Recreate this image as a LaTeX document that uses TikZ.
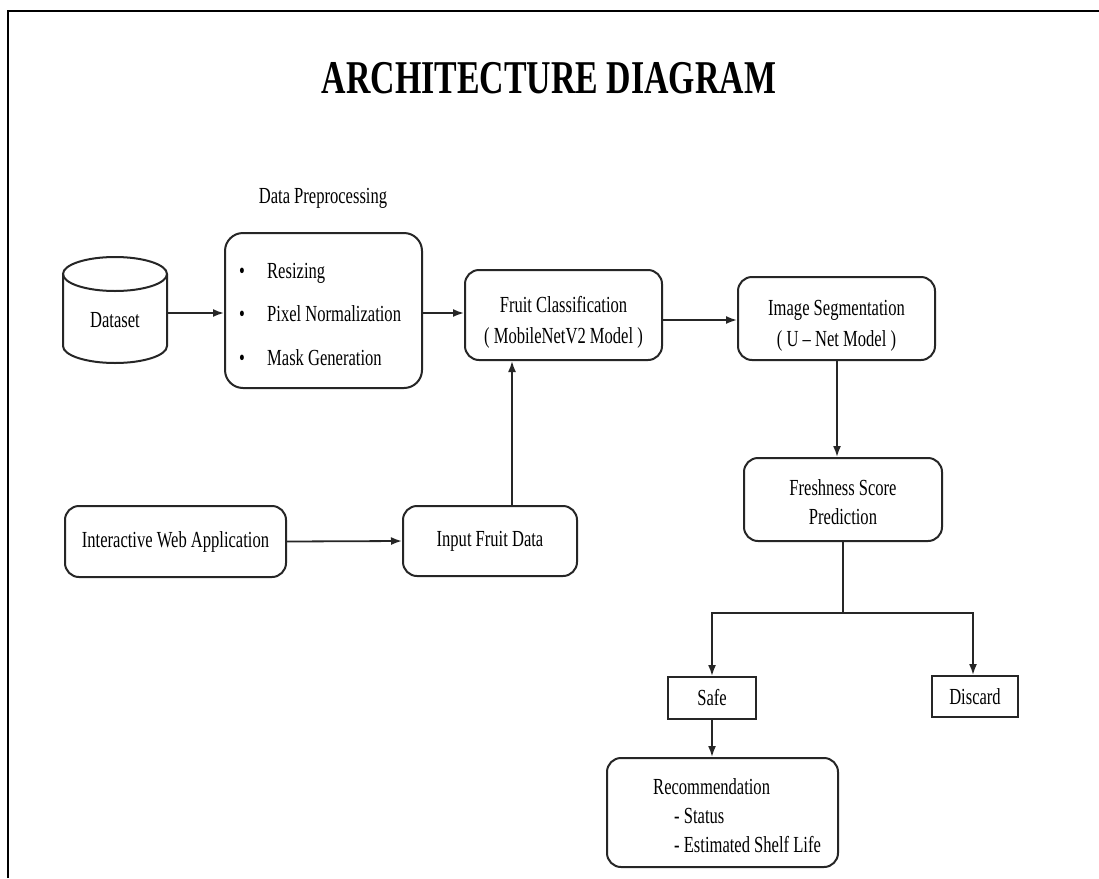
\documentclass[tikz,border=0pt]{standalone}
\usepackage{fontspec}
\setmainfont{Liberation Serif}[FakeStretch=0.72]
\newfontfamily\titlefont{Liberation Serif}[FakeStretch=0.72]
\usetikzlibrary{arrows.meta}
\begin{document}
\begin{tikzpicture}[x=1pt,y=-1pt,
  body/.style={font=\fontsize{23}{31}\selectfont},
  box/.style={draw=black!85, line width=2pt, rounded corners=14pt, inner sep=0pt, align=center, body},
  sqbox/.style={draw=black!85, line width=2pt, inner sep=0pt, align=center, body},
  txt/.style={inner sep=0pt, body},
  btxt/.style={inner sep=0pt, body, anchor=base},
  arr/.style={draw=black!85, line width=1.8pt, -{Latex[length=11pt,width=8pt]}},
  ln/.style={draw=black!85, line width=1.8pt}]
\useasboundingbox (0,0) rectangle (1099,878);
\fill[white] (0,0) rectangle (1099,878);
\draw[line width=2.5pt] (8,878) -- (8,11) -- (1099,11);

% title
\node[inner sep=0pt, font=\titlefont\bfseries\fontsize{47}{50}\selectfont] (title) at (549,78) {ARCHITECTURE DIAGRAM};
\node[txt] (preplabel) at (323,198) {Data Preprocessing};

% dataset cylinder
\node[txt, minimum width=104pt, minimum height=106pt] (dataset) at (115,310) {};
\draw[draw=black!85, line width=2pt] (63,274) -- (63,346) arc[start angle=180, end angle=360, x radius=52pt, y radius=17pt] -- (167,274);
\draw[draw=black!85, line width=2pt] (115,274) ellipse [x radius=52pt, y radius=17pt];
\node[txt] (datasettxt) at (115,320) {Dataset};

% preprocessing
\node[box, rounded corners=18pt, minimum width=197pt, minimum height=155pt] (prep) at (323.5,310.5) {};
\node[btxt] (b1) at (242,278) {\textbullet};
\node[btxt] (b2) at (242,321) {\textbullet};
\node[btxt] (b3) at (242,365) {\textbullet};
\node[txt, anchor=base west] (p1) at (267,278) {Resizing};
\node[txt, anchor=base west] (p2) at (267,321) {Pixel Normalization};
\node[txt, anchor=base west] (p3) at (267,365) {Mask Generation};

% fruit classification
\node[box, minimum width=197pt, minimum height=90pt] (fruit) at (563.5,315) {};
\node[btxt] (fruit1) at (563.5,312) {Fruit Classification};
\node[btxt] (fruit2) at (563.5,343) {( MobileNetV2 Model )};
% segmentation
\node[box, minimum width=197pt, minimum height=83pt] (seg) at (836.5,318.5) {};
\node[btxt] (seg1) at (836.5,315) {Image Segmentation};
\node[btxt] (seg2) at (836.5,346) {( U -- Net Model )};
% freshness
\node[box, minimum width=198pt, minimum height=83pt] (fresh) at (843,499.5) {};
\node[btxt] (fresh1) at (843,495) {Freshness Score};
\node[btxt] (fresh2) at (843,524) {Prediction};

% web + input
\node[box, minimum width=221pt, minimum height=71pt] (web) at (175.5,541.5) {Interactive Web Application};
\node[box, minimum width=174pt, minimum height=70pt] (input) at (490,541) {Input Fruit Data};

% safe, discard
\node[sqbox, minimum width=88pt, minimum height=42pt] (safe) at (712,698) {Safe};
\node[sqbox, minimum width=86pt, minimum height=41pt] (discard) at (975,696.5) {Discard};

% recommendation
\node[box, minimum width=231pt, minimum height=109pt] (rec) at (722.5,812.5) {};
\node[btxt, anchor=base west] (rec1) at (653,794) {Recommendation};
\node[btxt, anchor=base west] (rec2) at (674,823) {- Status};
\node[btxt, anchor=base west] (rec3) at (674,852) {- Estimated Shelf Life};

% connectors
\draw[arr] (dataset.east |- 0,313) -- (prep.west |- 0,313);
\draw[arr] (prep.east |- 0,313) -- (fruit.west |- 0,313);
\draw[arr] (fruit.east |- 0,320) -- (seg.west |- 0,320);
\draw[arr] (input.north -| 512,0) -- (fruit.south -| 512,0);
\draw[arr] (web.east) -- (input.west);
\draw[arr] (seg.south -| 837,0) -- (fresh.north -| 837,0);
\coordinate (split) at (843,613);
\draw[ln] (fresh.south) -- (split);
\draw[arr] (split) -| (safe.north);
\draw[arr] (split) -| (discard.north -| 973,0);
\draw[arr] (safe.south) -- (rec.north -| safe.south);
\end{tikzpicture}
\end{document}
